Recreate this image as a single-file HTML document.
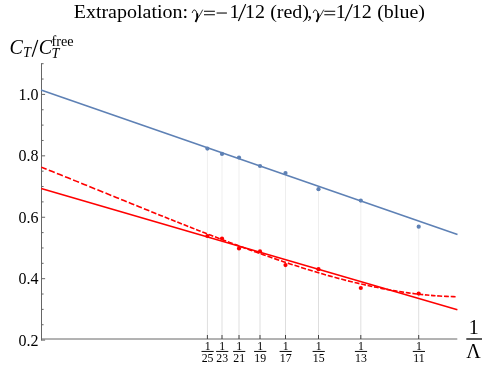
<!DOCTYPE html>
<html><head><meta charset="utf-8"><title>Extrapolation</title>
<style>html,body{margin:0;padding:0;background:#fff;width:498px;height:382px;overflow:hidden}</style></head>
<body>
<svg width="498" height="382" viewBox="0 0 498 382" style="position:absolute;left:0;top:0;will-change:transform">
<rect width="498" height="382" fill="#fff"/>
<line x1="207.4" y1="339.0" x2="207.4" y2="148.6" stroke="#000" stroke-opacity="0.066" stroke-width="1"/>
<line x1="207.4" y1="339.0" x2="207.4" y2="236.0" stroke="#000" stroke-opacity="0.066" stroke-width="1"/>
<line x1="222.0" y1="339.0" x2="222.0" y2="153.9" stroke="#000" stroke-opacity="0.066" stroke-width="1"/>
<line x1="222.0" y1="339.0" x2="222.0" y2="238.5" stroke="#000" stroke-opacity="0.066" stroke-width="1"/>
<line x1="239.0" y1="339.0" x2="239.0" y2="157.5" stroke="#000" stroke-opacity="0.066" stroke-width="1"/>
<line x1="239.0" y1="339.0" x2="239.0" y2="248.4" stroke="#000" stroke-opacity="0.066" stroke-width="1"/>
<line x1="260.0" y1="339.0" x2="260.0" y2="166" stroke="#000" stroke-opacity="0.066" stroke-width="1"/>
<line x1="260.0" y1="339.0" x2="260.0" y2="251.4" stroke="#000" stroke-opacity="0.066" stroke-width="1"/>
<line x1="285.5" y1="339.0" x2="285.5" y2="173" stroke="#000" stroke-opacity="0.066" stroke-width="1"/>
<line x1="285.5" y1="339.0" x2="285.5" y2="265.1" stroke="#000" stroke-opacity="0.066" stroke-width="1"/>
<line x1="318.5" y1="339.0" x2="318.5" y2="189.2" stroke="#000" stroke-opacity="0.066" stroke-width="1"/>
<line x1="318.5" y1="339.0" x2="318.5" y2="269.2" stroke="#000" stroke-opacity="0.066" stroke-width="1"/>
<line x1="360.8" y1="339.0" x2="360.8" y2="200.6" stroke="#000" stroke-opacity="0.066" stroke-width="1"/>
<line x1="360.8" y1="339.0" x2="360.8" y2="288.0" stroke="#000" stroke-opacity="0.066" stroke-width="1"/>
<line x1="418.7" y1="339.0" x2="418.7" y2="226.7" stroke="#000" stroke-opacity="0.066" stroke-width="1"/>
<line x1="418.7" y1="339.0" x2="418.7" y2="293.6" stroke="#000" stroke-opacity="0.066" stroke-width="1"/>
<line x1="41.5" y1="339.0" x2="457.3" y2="339.0" stroke="#666" stroke-width="1"/>
<line x1="41.5" y1="340.6" x2="41.5" y2="63.2" stroke="#666" stroke-width="1"/>
<line x1="41.5" y1="340.10" x2="45.1" y2="340.10" stroke="#666" stroke-width="1"/>
<line x1="41.5" y1="324.74" x2="43.6" y2="324.74" stroke="#666" stroke-width="1"/>
<line x1="41.5" y1="309.39" x2="43.6" y2="309.39" stroke="#666" stroke-width="1"/>
<line x1="41.5" y1="294.03" x2="43.6" y2="294.03" stroke="#666" stroke-width="1"/>
<line x1="41.5" y1="278.68" x2="45.1" y2="278.68" stroke="#666" stroke-width="1"/>
<line x1="41.5" y1="263.32" x2="43.6" y2="263.32" stroke="#666" stroke-width="1"/>
<line x1="41.5" y1="247.96" x2="43.6" y2="247.96" stroke="#666" stroke-width="1"/>
<line x1="41.5" y1="232.61" x2="43.6" y2="232.61" stroke="#666" stroke-width="1"/>
<line x1="41.5" y1="217.25" x2="45.1" y2="217.25" stroke="#666" stroke-width="1"/>
<line x1="41.5" y1="201.89" x2="43.6" y2="201.89" stroke="#666" stroke-width="1"/>
<line x1="41.5" y1="186.54" x2="43.6" y2="186.54" stroke="#666" stroke-width="1"/>
<line x1="41.5" y1="171.18" x2="43.6" y2="171.18" stroke="#666" stroke-width="1"/>
<line x1="41.5" y1="155.83" x2="45.1" y2="155.83" stroke="#666" stroke-width="1"/>
<line x1="41.5" y1="140.47" x2="43.6" y2="140.47" stroke="#666" stroke-width="1"/>
<line x1="41.5" y1="125.11" x2="43.6" y2="125.11" stroke="#666" stroke-width="1"/>
<line x1="41.5" y1="109.76" x2="43.6" y2="109.76" stroke="#666" stroke-width="1"/>
<line x1="41.5" y1="94.40" x2="45.1" y2="94.40" stroke="#666" stroke-width="1"/>
<line x1="41.5" y1="79.04" x2="43.6" y2="79.04" stroke="#666" stroke-width="1"/>
<line x1="41.5" y1="63.69" x2="43.6" y2="63.69" stroke="#666" stroke-width="1"/>
<line x1="207.4" y1="339.0" x2="207.4" y2="335.0" stroke="#444" stroke-width="1"/>
<line x1="222.0" y1="339.0" x2="222.0" y2="335.0" stroke="#444" stroke-width="1"/>
<line x1="239.0" y1="339.0" x2="239.0" y2="335.0" stroke="#444" stroke-width="1"/>
<line x1="260.0" y1="339.0" x2="260.0" y2="335.0" stroke="#444" stroke-width="1"/>
<line x1="285.5" y1="339.0" x2="285.5" y2="335.0" stroke="#444" stroke-width="1"/>
<line x1="318.5" y1="339.0" x2="318.5" y2="335.0" stroke="#444" stroke-width="1"/>
<line x1="360.8" y1="339.0" x2="360.8" y2="335.0" stroke="#444" stroke-width="1"/>
<line x1="418.7" y1="339.0" x2="418.7" y2="335.0" stroke="#444" stroke-width="1"/>
<line x1="41" y1="89.9" x2="457.5" y2="234.45" stroke="#5E81B5" stroke-width="1.6"/>
<line x1="41.2" y1="188.55" x2="457.4" y2="309.85" stroke="#f00" stroke-width="1.6"/>
<path d="M41.30,167.13 L43.96,168.20 L46.61,169.26 M48.80,170.14 L51.76,171.33 L54.71,172.52 M56.90,173.40 L59.86,174.59 L62.81,175.78 M65.00,176.66 L67.96,177.86 L70.91,179.05 M73.10,179.94 L76.06,181.13 L79.01,182.33 M81.20,183.22 L84.16,184.41 L87.11,185.61 M89.30,186.50 L92.26,187.70 L95.21,188.90 M97.40,189.79 L100.36,190.99 L103.31,192.19 M105.50,193.08 L108.38,194.25 L111.27,195.42 M113.40,196.29 L116.21,197.43 L119.02,198.58 M121.10,199.42 L123.91,200.56 L126.72,201.71 M128.80,202.55 L131.54,203.66 L134.28,204.77 M136.30,205.59 L139.07,206.72 L141.85,207.84 M143.90,208.67 L146.60,209.76 L149.30,210.86 M151.30,211.66 L153.82,212.68 L156.34,213.69 M158.20,214.45 L160.57,215.40 L162.94,216.35 M164.70,217.06 L167.00,217.98 L169.30,218.90 M171.00,219.58 L173.30,220.50 L175.60,221.42 M177.30,222.10 L179.60,223.01 L181.90,223.93 M183.60,224.60 L185.90,225.51 L188.20,226.42 M189.90,227.09 L192.16,227.98 L194.43,228.87 M196.10,229.53 L198.36,230.42 L200.63,231.30 M202.30,231.96 L204.60,232.85 L206.90,233.74 M208.60,234.40 L210.94,235.31 L213.27,236.21 M215.00,236.87 L217.34,237.77 L219.67,238.66 M221.40,239.32 L223.77,240.22 L226.15,241.12 M227.90,241.78 L230.27,242.68 L232.65,243.57 M234.40,244.23 L236.77,245.11 L239.15,245.99 M240.90,246.64 L243.31,247.53 L245.72,248.41 M247.50,249.06 L249.91,249.94 L252.32,250.81 M254.10,251.46 L256.55,252.34 L258.99,253.21 M260.80,253.85 L263.25,254.72 L265.69,255.58 M267.50,256.21 L269.95,257.06 L272.39,257.91 M274.20,258.53 L276.68,259.38 L279.16,260.23 M281.00,260.85 L283.48,261.68 L285.96,262.51 M287.80,263.12 L290.25,263.92 L292.69,264.72 M294.50,265.31 L296.91,266.09 L299.32,266.86 M301.10,267.42 L303.55,268.19 L305.99,268.95 M307.80,269.51 L310.25,270.26 L312.69,271.01 M314.50,271.55 L316.95,272.28 L319.39,273.01 M321.20,273.54 L323.61,274.24 L326.02,274.93 M327.80,275.43 L330.25,276.12 L332.69,276.80 M334.50,277.30 L336.95,277.96 L339.39,278.62 M341.20,279.10 L343.68,279.74 L346.16,280.38 M348.00,280.85 L350.41,281.46 L352.82,282.05 M354.60,282.49 L357.01,283.07 L359.42,283.64 M361.20,284.05 L363.54,284.59 L365.87,285.11 M367.60,285.50 L369.94,286.01 L372.27,286.51 M374.00,286.87 L376.30,287.34 L378.60,287.81 M380.30,288.15 L382.60,288.59 L384.90,289.03 M386.60,289.35 L388.90,289.77 L391.20,290.17 M392.90,290.47 L395.20,290.86 L397.50,291.24 M399.20,291.51 L401.61,291.88 L404.02,292.25 M405.80,292.51 L408.21,292.85 L410.62,293.18 M412.40,293.41 L414.70,293.70 L417.00,293.98 M418.70,294.18 L420.96,294.43 L423.23,294.67 M424.90,294.84 L427.13,295.06 L429.35,295.26 M431.00,295.41 L433.26,295.59 L435.53,295.76 M437.20,295.88 L439.68,296.04 L442.16,296.19 M444.00,296.29 L446.45,296.40 L448.89,296.50 M450.70,296.57 L453.15,296.64 L455.59,296.69" fill="none" stroke="#f00" stroke-width="1.6"/>
<circle cx="207.4" cy="148.6" r="2.1" fill="#5E81B5"/>
<circle cx="222.0" cy="153.9" r="2.1" fill="#5E81B5"/>
<circle cx="239.0" cy="157.5" r="2.1" fill="#5E81B5"/>
<circle cx="260.0" cy="166" r="2.1" fill="#5E81B5"/>
<circle cx="285.5" cy="173" r="2.1" fill="#5E81B5"/>
<circle cx="318.5" cy="189.2" r="2.1" fill="#5E81B5"/>
<circle cx="360.8" cy="200.6" r="2.1" fill="#5E81B5"/>
<circle cx="418.7" cy="226.7" r="2.1" fill="#5E81B5"/>
<circle cx="207.4" cy="236.0" r="2.1" fill="#f00"/>
<circle cx="222.0" cy="238.5" r="2.1" fill="#f00"/>
<circle cx="239.0" cy="248.4" r="2.1" fill="#f00"/>
<circle cx="260.0" cy="251.4" r="2.1" fill="#f00"/>
<circle cx="285.5" cy="265.1" r="2.1" fill="#f00"/>
<circle cx="318.5" cy="269.2" r="2.1" fill="#f00"/>
<circle cx="360.8" cy="288.0" r="2.1" fill="#f00"/>
<circle cx="418.7" cy="293.6" r="2.1" fill="#f00"/>
<g font-family="'Liberation Serif', serif" fill="#000">
<text x="38.6" y="99.8" font-size="16" text-anchor="end">1.0</text>
<text x="38.6" y="161.2" font-size="16" text-anchor="end">0.8</text>
<text x="38.6" y="222.7" font-size="16" text-anchor="end">0.6</text>
<text x="38.6" y="284.1" font-size="16" text-anchor="end">0.4</text>
<text x="38.6" y="345.5" font-size="16" text-anchor="end">0.2</text>
<text x="207.6" y="349.7" font-size="11.8" text-anchor="middle">1</text>
<line x1="201.5" y1="351.45" x2="213.7" y2="351.45" stroke="#000" stroke-width="0.95"/>
<text x="207.6" y="361.7" font-size="11.8" text-anchor="middle">25</text>
<text x="222.2" y="349.7" font-size="11.8" text-anchor="middle">1</text>
<line x1="216.1" y1="351.45" x2="228.29999999999998" y2="351.45" stroke="#000" stroke-width="0.95"/>
<text x="222.2" y="361.7" font-size="11.8" text-anchor="middle">23</text>
<text x="239.2" y="349.7" font-size="11.8" text-anchor="middle">1</text>
<line x1="233.1" y1="351.45" x2="245.29999999999998" y2="351.45" stroke="#000" stroke-width="0.95"/>
<text x="239.2" y="361.7" font-size="11.8" text-anchor="middle">21</text>
<text x="260.2" y="349.7" font-size="11.8" text-anchor="middle">1</text>
<line x1="254.1" y1="351.45" x2="266.3" y2="351.45" stroke="#000" stroke-width="0.95"/>
<text x="260.2" y="361.7" font-size="11.8" text-anchor="middle">19</text>
<text x="285.7" y="349.7" font-size="11.8" text-anchor="middle">1</text>
<line x1="279.59999999999997" y1="351.45" x2="291.8" y2="351.45" stroke="#000" stroke-width="0.95"/>
<text x="285.7" y="361.7" font-size="11.8" text-anchor="middle">17</text>
<text x="318.7" y="349.7" font-size="11.8" text-anchor="middle">1</text>
<line x1="312.59999999999997" y1="351.45" x2="324.8" y2="351.45" stroke="#000" stroke-width="0.95"/>
<text x="318.7" y="361.7" font-size="11.8" text-anchor="middle">15</text>
<text x="361.0" y="349.7" font-size="11.8" text-anchor="middle">1</text>
<line x1="354.9" y1="351.45" x2="367.1" y2="351.45" stroke="#000" stroke-width="0.95"/>
<text x="361.0" y="361.7" font-size="11.8" text-anchor="middle">13</text>
<text x="418.9" y="349.7" font-size="11.8" text-anchor="middle">1</text>
<line x1="412.79999999999995" y1="351.45" x2="425.0" y2="351.45" stroke="#000" stroke-width="0.95"/>
<text x="418.9" y="361.7" font-size="11.8" text-anchor="middle">11</text>
<text x="473.8" y="333.8" font-size="20" text-anchor="middle">1</text>
<line x1="466.3" y1="339" x2="482" y2="339" stroke="#000" stroke-width="1.3"/>
<text x="473.6" y="358" font-size="20" text-anchor="middle">Λ</text>
<text x="9.4" y="54" font-size="20" font-style="italic">C</text>
<text x="22.9" y="56.7" font-size="14.2" font-style="italic">T</text>
<line x1="37.75" y1="40.0" x2="32.15" y2="56.7" stroke="#000" stroke-width="1.15"/>
<text x="38.7" y="54" font-size="20" font-style="italic">C</text>
<text x="51.6" y="57.7" font-size="14.2" font-style="italic">T</text>
<text x="51.5" y="46.1" font-size="14.2">free</text>
<g transform="translate(0,18.0) scale(1,0.965) translate(0,-18.0)">
<text x="73.7" y="18.0" font-size="20" >Extrapolation:</text>
<g transform="translate(0.00,0)" fill="none" stroke="#000" stroke-linecap="round"><path d="M192.3,12.3 C192.7,10.5 193.5,9.7 194.5,9.7 C196.1,9.8 197.0,12.3 197.4,16.6" stroke-width="1"/><path d="M197.2,13.2 C197.8,16.4 197.0,19.6 195.5,22.1" stroke-width="1.8" stroke-linecap="butt"/><path d="M202.6,9.7 C201.3,12.8 199.4,15.8 197.3,18.8" stroke-width="0.8"/></g>
<path d="M204.0,11.0H214.9M204.0,14.7H214.9" stroke="#000" stroke-width="1.1" fill="none"/>
<path d="M216.6,12.85H226.9" stroke="#000" stroke-width="1.1" fill="none"/>
<text x="229.4" y="18.0" font-size="20" >1</text>
<line x1="245.7" y1="3.6" x2="238.4" y2="21.1" stroke="#000" stroke-width="1.2"/>
<text x="244.9" y="18.0" font-size="20" >12</text>
<text x="270.2" y="18.0" font-size="20" >(red)</text>
<text x="307.3" y="18.0" font-size="20" >,</text>
<g transform="translate(121.00,0)" fill="none" stroke="#000" stroke-linecap="round"><path d="M192.3,12.3 C192.7,10.5 193.5,9.7 194.5,9.7 C196.1,9.8 197.0,12.3 197.4,16.6" stroke-width="1"/><path d="M197.2,13.2 C197.8,16.4 197.0,19.6 195.5,22.1" stroke-width="1.8" stroke-linecap="butt"/><path d="M202.6,9.7 C201.3,12.8 199.4,15.8 197.3,18.8" stroke-width="0.8"/></g>
<path d="M324.3,11.0H335.2M324.3,14.7H335.2" stroke="#000" stroke-width="1.1" fill="none"/>
<text x="335.7" y="18.0" font-size="20" >1</text>
<line x1="352.4" y1="3.6" x2="345.0" y2="21.1" stroke="#000" stroke-width="1.2"/>
<text x="351.7" y="18.0" font-size="20" >12</text>
<text x="377.2" y="18.0" font-size="20" >(blue)</text>
</g>
</g>
</svg>
</body></html>
